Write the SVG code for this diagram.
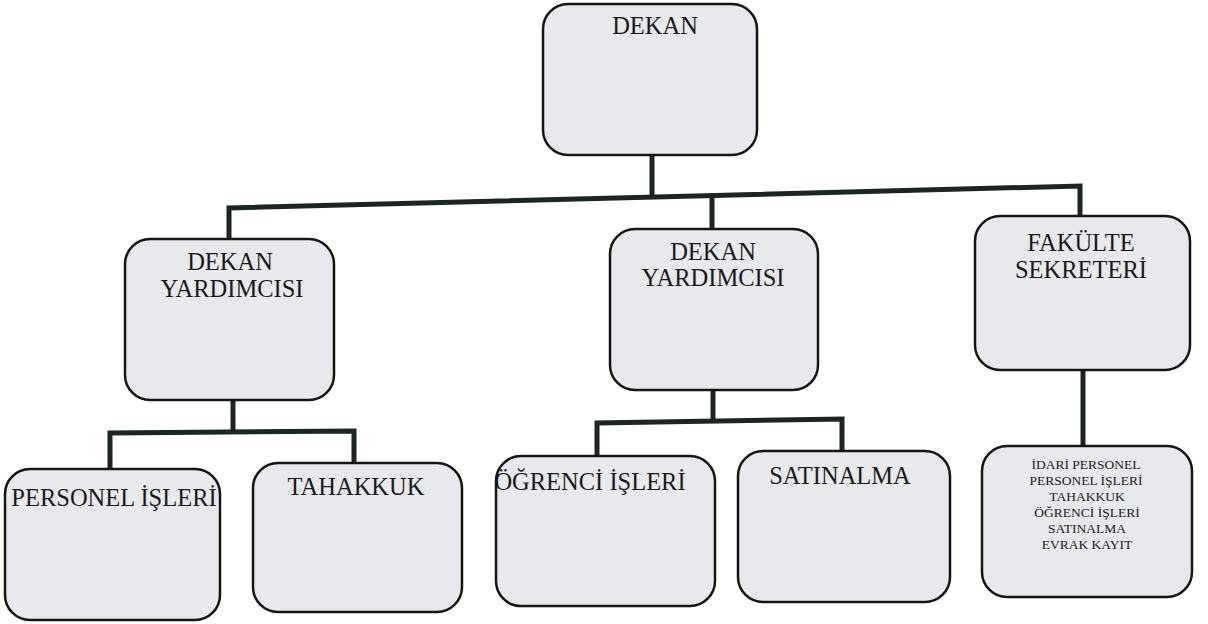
<svg xmlns="http://www.w3.org/2000/svg" width="1208" height="624" viewBox="0 0 1208 624">
<style>
.box{fill:#e8e9ec;stroke:#151515;stroke-width:2.5}
.t{font-family:'Liberation Serif','DejaVu Serif',serif;font-size:24.5px;fill:#1a1a1a;text-anchor:middle}
.s{font-family:'Liberation Serif','DejaVu Serif',serif;font-size:13.5px;fill:#1a1a1a;text-anchor:middle}
.c{fill:none;stroke:#1c2621;stroke-width:5;stroke-linejoin:miter}
</style>
<rect width="1208" height="624" fill="#fff"/>
<g id="connectors">
<polyline class="c" points="652,155 652,197"/>
<polyline class="c" points="229,240 229,208 1080,186 1080,216"/>
<polyline class="c" points="712,197 712,229"/>
<polyline class="c" points="233,400 233,432"/>
<polyline class="c" points="110,469 110,433 354,431 354,463"/>
<polyline class="c" points="713,390 713,422"/>
<polyline class="c" points="597,456 597,423 842,419 842,451"/>
<polyline class="c" points="1083,370 1083,446"/>
</g>
<g id="dekan"><rect class="box" x="543" y="4" width="214" height="151" rx="25"/><text class="t" x="655" y="34">DEKAN</text></g>
<g id="dy1"><rect class="box" x="125" y="239" width="209" height="161" rx="25"/><text class="t" x="230" y="270">DEKAN</text><text class="t" x="232" y="297">YARDIMCISI</text></g>
<g id="dy2"><rect class="box" x="610" y="229" width="208" height="161" rx="25"/><text class="t" x="713" y="260">DEKAN</text><text class="t" x="713" y="286">YARDIMCISI</text></g>
<g id="fs"><rect class="box" x="975" y="216" width="215" height="154" rx="25"/><text class="t" x="1081" y="251">FAKÜLTE</text><text class="t" x="1081" y="278">SEKRETERİ</text></g>
<g id="pi"><rect class="box" x="5" y="469" width="215" height="151" rx="25"/><text class="t" x="114" y="506">PERSONEL İŞLERİ</text></g>
<g id="th"><rect class="box" x="253" y="463" width="209" height="149" rx="25"/><text class="t" x="356" y="495">TAHAKKUK</text></g>
<g id="oi"><rect class="box" x="496" y="456" width="219" height="150" rx="25"/><text class="t" x="590" y="490">ÖĞRENCİ İŞLERİ</text></g>
<g id="sa"><rect class="box" x="738" y="451" width="212" height="151" rx="25"/><text class="t" x="840" y="484">SATINALMA</text></g>
<g id="ip"><rect class="box" x="982" y="446" width="210" height="151" rx="25"/>
<text class="s" x="1086" y="469">İDARİ PERSONEL</text>
<text class="s" x="1086" y="485">PERSONEL İŞLERİ</text>
<text class="s" x="1087" y="501">TAHAKKUK</text>
<text class="s" x="1087" y="517">ÖĞRENCİ İŞLERİ</text>
<text class="s" x="1087" y="533">SATINALMA</text>
<text class="s" x="1087" y="549">EVRAK KAYIT</text>
</g>
</svg>
